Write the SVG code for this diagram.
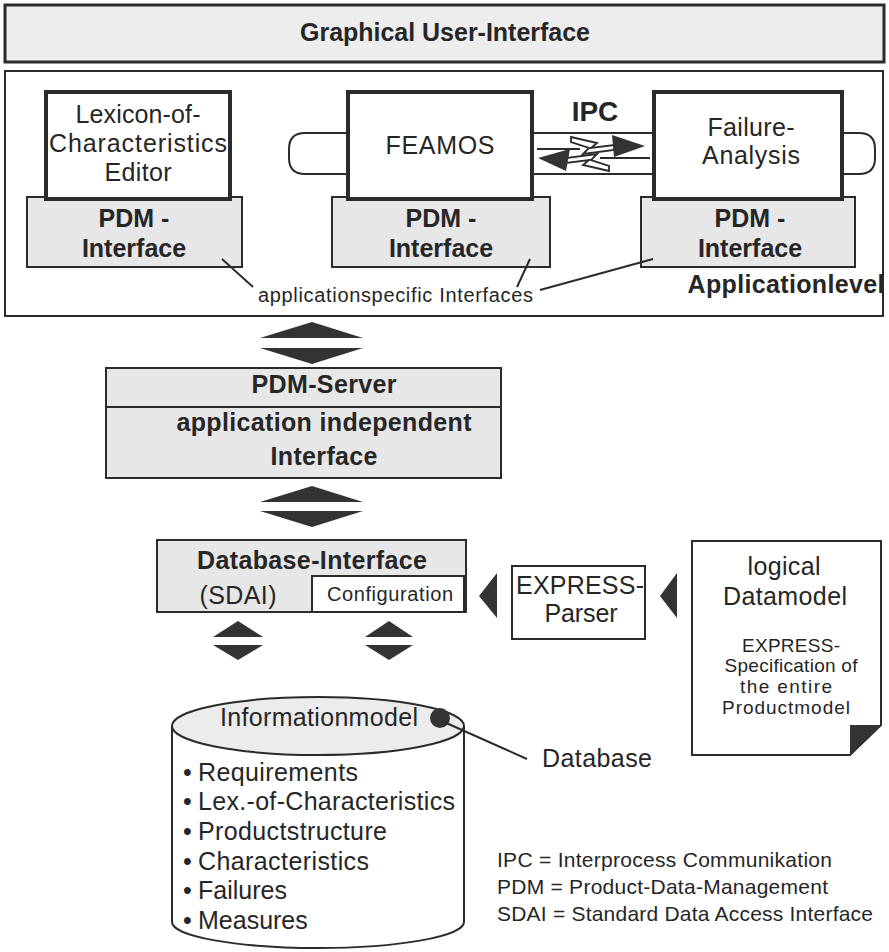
<svg xmlns="http://www.w3.org/2000/svg" width="889" height="952" viewBox="0 0 889 952">
  <style>
    .t { font-family: "Liberation Sans", Arial, sans-serif; fill: #262626; font-size: 25px; }
    .b { font-weight: bold; }
    .s { font-size: 20px; }
    .m { font-size: 19px; }
    .l { font-size: 21px; }
    .c { text-anchor: middle; }
    .panel { fill: #ededed; stroke: #2b2b2b; stroke-width: 3; }
    .frame { fill: #ffffff; stroke: #2b2b2b; stroke-width: 2; }
    .app { fill: #ffffff; stroke: #2b2b2b; stroke-width: 4; }
    .grey { fill: #e7e7e7; stroke: #2b2b2b; stroke-width: 2; }
    .white { fill: #ffffff; stroke: #2b2b2b; stroke-width: 2; }
    .line { fill: none; stroke: #2b2b2b; stroke-width: 2; }
    .bolt { fill: #ffffff; stroke: #2b2b2b; stroke-width: 1.8; stroke-linejoin: miter; }
    .solid { fill: #333333; stroke: none; }
  </style>

  <!-- top layer -->
  <g id="gui">
    <rect class="panel" x="5" y="5" width="879" height="57"/>
    <text class="t b c" x="445" y="41" textLength="290" lengthAdjust="spacingAndGlyphs">Graphical User-Interface</text>
  </g>

  <!-- application level frame -->
  <g id="application-level">
    <rect class="frame" x="5" y="71" width="878" height="245"/>
    <text class="t b c" x="786" y="293" textLength="197">Applicationlevel</text>
    <text class="t s" x="258" y="302" textLength="275">applicationspecific Interfaces</text>
  </g>

  <!-- IPC side tabs -->
  <g id="ipc-tabs">
    <path class="white" d="M350,133 H305 Q289,133 289,149 V158 Q289,174 305,174 H350"/>
    <path class="white" d="M840,133 H859 Q875,133 875,149 V158 Q875,174 859,174 H840"/>
  </g>

  <g id="lexicon-editor">
    <rect class="grey" x="27" y="197" width="215" height="70"/>
    <text class="t b c" x="134" y="227">PDM -</text>
    <text class="t b c" x="134" y="257">Interface</text>
    <rect class="app" x="46" y="92" width="184" height="107"/>
    <text class="t c" x="138" y="123" textLength="125">Lexicon-of-</text>
    <text class="t c" x="138" y="152" textLength="178">Characteristics</text>
    <text class="t c" x="138" y="181" textLength="67">Editor</text>
  </g>

  <g id="feamos">
    <rect class="grey" x="332" y="197" width="218" height="70"/>
    <text class="t b c" x="441" y="227">PDM -</text>
    <text class="t b c" x="441" y="257">Interface</text>
    <rect class="app" x="348" y="92" width="184" height="107"/>
    <text class="t c" x="440" y="154" textLength="109">FEAMOS</text>
  </g>

  <g id="failure-analysis">
    <rect class="grey" x="641" y="197" width="214" height="70"/>
    <text class="t b c" x="750" y="227">PDM -</text>
    <text class="t b c" x="750" y="257">Interface</text>
    <rect class="app" x="654" y="92" width="188" height="107"/>
    <text class="t c" x="751" y="136" textLength="87">Failure-</text>
    <text class="t c" x="751" y="164" textLength="98">Analysis</text>
  </g>

  <!-- IPC channel between the two applications -->
  <g id="ipc">
    <text class="t b c" x="595" y="121" style="font-size:28px">IPC</text>
    <line class="line" x1="532" y1="133" x2="654" y2="133"/>
    <line class="line" x1="532" y1="174" x2="654" y2="174"/>
    <line class="line" x1="537" y1="149" x2="580" y2="149"/>
    <line class="line" x1="600" y1="158" x2="650" y2="158"/>
    <polygon class="bolt" points="571,137 597,143 591,148 614,145 614,150 583,154 589,148 571,142"/>
    <polygon class="solid" points="612,135 645,146 614,157"/>
    <polygon class="bolt" points="609,171 583,165 589,160 566,163 566,158 597,154 591,160 609,166"/>
    <polygon class="solid" points="570,149 538,158 566,171"/>
  </g>

  <g id="pdm-server">
    <rect class="grey" x="106" y="368" width="395" height="39"/>
    <rect class="grey" x="106" y="407" width="395" height="71"/>
    <text class="t b c" x="324" y="393" textLength="145">PDM-Server</text>
    <text class="t b c" x="324" y="431" textLength="295">application independent</text>
    <text class="t b c" x="324" y="465" textLength="107">Interface</text>
  </g>

  <g id="database-interface">
    <rect class="grey" x="157" y="540" width="309" height="72"/>
    <text class="t b c" x="312" y="569" textLength="230">Database-Interface</text>
    <text class="t c" x="238" y="604" textLength="77">(SDAI)</text>
    <rect class="white" x="312" y="576" width="152" height="36"/>
    <text class="t s c" x="390" y="601" textLength="126">Configuration</text>
  </g>

  <g id="express-parser">
    <rect class="white" x="512" y="566" width="133" height="73"/>
    <text class="t c" x="580" y="594" textLength="128">EXPRESS-</text>
    <text class="t c" x="581" y="622" textLength="73">Parser</text>
  </g>

  <g id="logical-datamodel">
    <path class="white" d="M692,541 H881 V725 L850,755 H692 Z"/>
    <polygon class="solid" points="850,725 881,725 850,755"/>
    <text class="t c" x="784" y="575" textLength="73">logical</text>
    <text class="t c" x="785" y="605" textLength="124">Datamodel</text>
    <text class="t m c" x="791" y="652" textLength="98">EXPRESS-</text>
    <text class="t m c" x="791" y="672" textLength="133">Specification of</text>
    <text class="t m c" x="786" y="693" textLength="92">the entire</text>
    <text class="t m c" x="786" y="714" textLength="128">Productmodel</text>
  </g>

  <g id="database">
    <path class="white" d="M172,726 V922 A146,26 0 0 0 464,922 V726"/>
    <ellipse cx="318" cy="726" rx="146" ry="29" fill="#ececec" stroke="#2b2b2b" stroke-width="2"/>
    <text class="t c" x="319" y="726" textLength="198">Informationmodel</text>
    <circle cx="440" cy="718" r="10" fill="#333333"/>
    <g class="t">
      <text x="183" y="781">•</text><text x="198" y="781" textLength="160">Requirements</text>
      <text x="183" y="810">•</text><text x="198" y="810" textLength="257">Lex.-of-Characteristics</text>
      <text x="183" y="840">•</text><text x="198" y="840" textLength="189">Productstructure</text>
      <text x="183" y="870">•</text><text x="198" y="870" textLength="171">Characteristics</text>
      <text x="183" y="899">•</text><text x="198" y="899">Failures</text>
      <text x="183" y="929">•</text><text x="198" y="929">Measures</text>
    </g>
    <text class="t" x="542" y="767" textLength="110">Database</text>
  </g>

  <g id="legend">
    <text class="t l" x="497" y="867" textLength="335">IPC = Interprocess Communikation</text>
    <text class="t l" x="497" y="894" textLength="331">PDM = Product-Data-Management</text>
    <text class="t l" x="497" y="921" textLength="376">SDAI = Standard Data Access Interface</text>
  </g>

  <!-- connectors: leader lines and data-flow arrows -->
  <g id="connectors">
    <line class="line" x1="222" y1="259" x2="253" y2="287"/>
    <line class="line" x1="530" y1="259" x2="517" y2="287"/>
    <line class="line" x1="653" y1="259" x2="540" y2="290"/>
    <line class="line" x1="444" y1="722" x2="527" y2="759"/>
    <!-- application level <-> PDM-Server -->
    <polygon class="solid" points="312,322 363,338 260,338"/>
    <polygon class="solid" points="260,348 363,348 312,364"/>
    <!-- PDM-Server <-> Database-Interface -->
    <polygon class="solid" points="312,486 363,502 260,502"/>
    <polygon class="solid" points="260,511 363,511 312,527"/>
    <!-- Database-Interface <-> database -->
    <polygon class="solid" points="238,621 263,637 213,637"/>
    <polygon class="solid" points="213,645 263,645 238,660"/>
    <polygon class="solid" points="389,621 413,637 365,637"/>
    <polygon class="solid" points="365,645 413,645 389,660"/>
    <!-- schema flow towards the configuration -->
    <polygon class="solid" points="497,573 497,618 479,596"/>
    <polygon class="solid" points="677,573 677,618 660,596"/>
  </g>
</svg>
